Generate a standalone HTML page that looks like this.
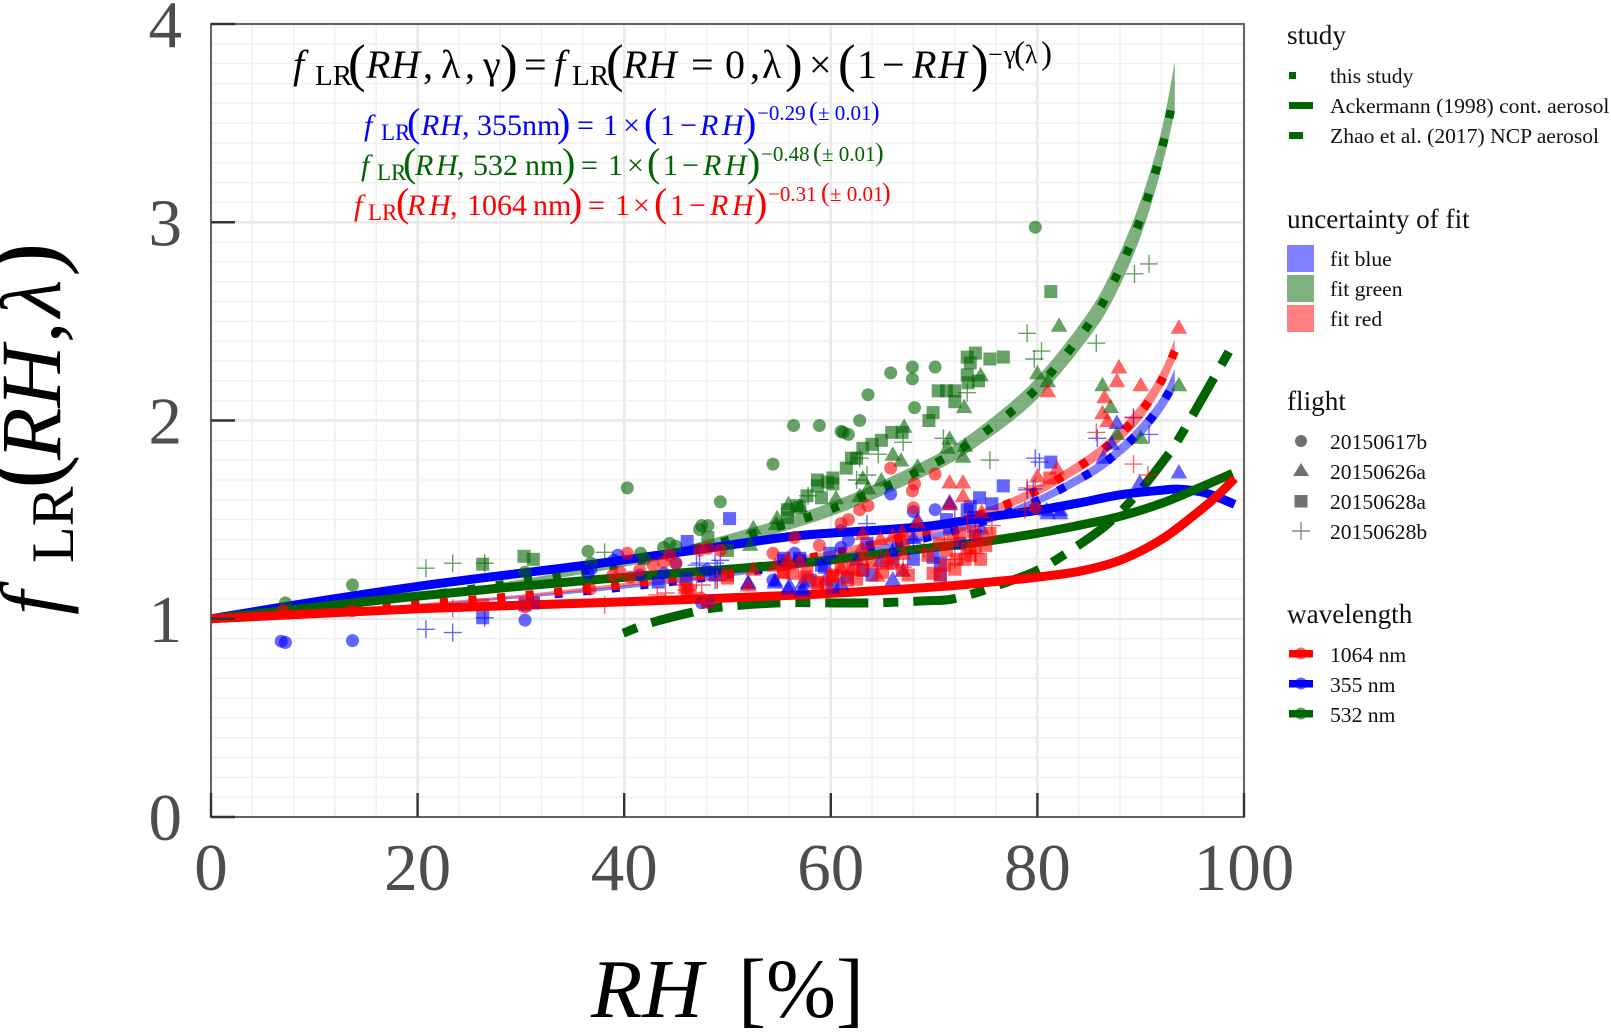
<!DOCTYPE html>
<html lang="en">
<head>
<meta charset="utf-8">
<title>fLR(RH, λ) enhancement factor</title>
<style>
html,body{margin:0;padding:0;background:#fff;}
body{width:1611px;height:1033px;overflow:hidden;}
svg{display:block;font-family:"Liberation Serif",serif;}
.lt{font-size:21.6px;fill:#111;}
.lh{font-size:27.2px;fill:#111;}
.i{font-style:italic;}
</style>
</head>
<body>
<svg id="chart" xmlns="http://www.w3.org/2000/svg" width="1611" height="1033" viewBox="0 0 1611 1033">
  <g id="grid"></g>
  <g id="lines"></g>
  <g id="points"></g>
  <g id="frame"></g>

  <g>
    <text font-size="40" fill="#000">
      <tspan class="i" x="293" y="78">f</tspan><tspan font-size="29" x="315" y="85">LR</tspan><tspan font-size="53" x="348" y="81">(</tspan><tspan class="i" x="366" y="78">R</tspan><tspan class="i" x="391" y="78">H</tspan><tspan x="423" y="78">,</tspan><tspan x="441" y="78">λ</tspan><tspan x="465" y="78">,</tspan><tspan x="483" y="78">γ</tspan><tspan font-size="53" x="500" y="81">)</tspan><tspan x="524" y="78">=</tspan><tspan class="i" x="554" y="78">f</tspan><tspan font-size="29" x="572" y="85">LR</tspan><tspan font-size="53" x="606" y="81">(</tspan><tspan class="i" x="623" y="78">R</tspan><tspan class="i" x="648" y="78">H</tspan><tspan x="691" y="78">=</tspan><tspan x="725" y="78">0</tspan><tspan x="750" y="78">,</tspan><tspan x="762" y="78">λ</tspan><tspan font-size="53" x="785" y="81">)</tspan><tspan x="809" y="78">×</tspan><tspan font-size="53" x="838" y="81">(</tspan><tspan x="857" y="78">1</tspan><tspan x="882" y="78">−</tspan><tspan class="i" x="912" y="78">R</tspan><tspan class="i" x="938" y="78">H</tspan><tspan font-size="53" x="971" y="81">)</tspan><tspan font-size="26" x="988" y="63">−</tspan><tspan font-size="26" x="1004" y="63">γ</tspan><tspan font-size="33" x="1014" y="64">(</tspan><tspan font-size="26" x="1025" y="63">λ</tspan><tspan font-size="33" x="1041" y="64">)</tspan>
    </text>
    <text font-size="30" fill="#0000ff">
      <tspan class="i" x="364" y="135">f</tspan><tspan font-size="23" x="381" y="140">LR</tspan><tspan font-size="40" x="407" y="136">(</tspan><tspan class="i" x="421" y="135">R</tspan><tspan class="i" x="440" y="135">H</tspan><tspan x="462" y="135">,</tspan><tspan x="477" y="135">355nm</tspan><tspan font-size="40" x="557" y="136">)</tspan><tspan x="577" y="135">=</tspan><tspan x="603" y="135">1</tspan><tspan x="623" y="135">×</tspan><tspan font-size="40" x="644" y="136">(</tspan><tspan x="660" y="135">1</tspan><tspan x="680" y="135">−</tspan><tspan class="i" x="700" y="135">R</tspan><tspan class="i" x="722" y="135">H</tspan><tspan font-size="40" x="743" y="136">)</tspan><tspan font-size="21" x="757" y="120">−0.29</tspan><tspan font-size="26" x="809" y="120">(</tspan><tspan font-size="21" x="818" y="120">± 0.01</tspan><tspan font-size="26" x="871" y="120">)</tspan>
    </text>
    <text font-size="30" fill="#006400">
      <tspan class="i" x="361" y="175">f</tspan><tspan font-size="23" x="377" y="180">LR</tspan><tspan font-size="40" x="403" y="176">(</tspan><tspan class="i" x="415" y="175">R</tspan><tspan class="i" x="436" y="175">H</tspan><tspan x="457" y="175">,</tspan><tspan x="473" y="175">532</tspan><tspan x="525" y="175">nm</tspan><tspan font-size="40" x="562" y="176">)</tspan><tspan x="581" y="175">=</tspan><tspan x="608" y="175">1</tspan><tspan x="627" y="175">×</tspan><tspan font-size="40" x="647" y="176">(</tspan><tspan x="663" y="175">1</tspan><tspan x="682" y="175">−</tspan><tspan class="i" x="703" y="175">R</tspan><tspan class="i" x="725" y="175">H</tspan><tspan font-size="40" x="747" y="176">)</tspan><tspan font-size="21" x="761" y="161">−0.48</tspan><tspan font-size="26" x="813" y="161">(</tspan><tspan font-size="21" x="822" y="161">± 0.01</tspan><tspan font-size="26" x="875" y="161">)</tspan>
    </text>
    <text font-size="30" fill="#ff0000">
      <tspan class="i" x="354" y="215">f</tspan><tspan font-size="23" x="368" y="220">LR</tspan><tspan font-size="40" x="396" y="216">(</tspan><tspan class="i" x="407" y="215">R</tspan><tspan class="i" x="429" y="215">H</tspan><tspan x="450" y="215">,</tspan><tspan x="467" y="215">1064</tspan><tspan x="533" y="215">nm</tspan><tspan font-size="40" x="569" y="216">)</tspan><tspan x="588" y="215">=</tspan><tspan x="615" y="215">1</tspan><tspan x="633" y="215">×</tspan><tspan font-size="40" x="654" y="216">(</tspan><tspan x="670" y="215">1</tspan><tspan x="689" y="215">−</tspan><tspan class="i" x="710" y="215">R</tspan><tspan class="i" x="732" y="215">H</tspan><tspan font-size="40" x="754" y="216">)</tspan><tspan font-size="21" x="768" y="201">−0.31</tspan><tspan font-size="26" x="821" y="201">(</tspan><tspan font-size="21" x="830" y="201">± 0.01</tspan><tspan font-size="26" x="882" y="201">)</tspan>
    </text>
  </g>

  <g transform="translate(60,613) rotate(-90)" fill="#000">
    <text font-size="86"><tspan class="i" x="-2" y="0">f</tspan><tspan font-size="60" x="50" y="13">LR</tspan><tspan font-size="104" x="124" y="-3">(</tspan><tspan class="i" x="153" y="0">RH</tspan><tspan x="270" y="0">,</tspan><tspan class="i" x="296" y="0">λ</tspan><tspan font-size="104" x="336" y="-3">)</tspan></text>
  </g>
  <text font-size="84" fill="#000"><tspan class="i" x="591" y="1017">RH</tspan><tspan x="738" y="1017">[%]</tspan></text>

  <g>
    <text class="lh" x="1287" y="44">study</text>
    <rect x="1289" y="72" width="7" height="7" fill="#006400"/>
    <text class="lt" x="1330" y="83">this study</text>
    <rect x="1289" y="102" width="24" height="7" fill="#006400"/>
    <text class="lt" x="1330" y="113">Ackermann (1998) cont. aerosol</text>
    <rect x="1289" y="132" width="14" height="7" fill="#006400"/>
    <text class="lt" x="1330" y="143">Zhao et al. (2017) NCP aerosol</text>
  </g>
  <g>
    <text class="lh" x="1287" y="228">uncertainty of fit</text>
    <rect x="1287" y="245" width="27" height="27" fill="#8080ff"/>
    <text class="lt" x="1330" y="266">fit blue</text>
    <rect x="1287" y="275" width="27" height="27" fill="#80b280"/>
    <text class="lt" x="1330" y="296">fit green</text>
    <rect x="1287" y="305" width="27" height="27" fill="#ff8080"/>
    <text class="lt" x="1330" y="326">fit red</text>
  </g>
  <g>
    <text class="lh" x="1287" y="410">flight</text>
    <circle cx="1301" cy="441" r="6" fill="#707070"/>
    <text class="lt" x="1330" y="449">20150617b</text>
    <polygon points="1301,463 1293,476 1309,476" fill="#707070"/>
    <text class="lt" x="1330" y="479">20150626a</text>
    <rect x="1294.500" y="495" width="13" height="12.500" fill="#707070"/>
    <text class="lt" x="1330" y="509">20150628a</text>
    <path d="M1292 531H1310M1301 522V540" stroke="#8a8a8a" stroke-width="1.400" fill="none"/>
    <text class="lt" x="1330" y="539">20150628b</text>
  </g>
  <g>
    <text class="lh" x="1287" y="623">wavelength</text>
    <rect x="1289" y="650" width="24" height="7.500" fill="#ff0000"/>
    <circle cx="1301" cy="653.500" r="6" fill="#ff0000" fill-opacity="0.600"/>
    <text class="lt" x="1330" y="662">1064 nm</text>
    <rect x="1289" y="680" width="24" height="7.500" fill="#0000ff"/>
    <circle cx="1301" cy="683.500" r="6" fill="#0000ff" fill-opacity="0.600"/>
    <text class="lt" x="1330" y="692">355 nm</text>
    <rect x="1289" y="710" width="24" height="7.500" fill="#006400"/>
    <circle cx="1301" cy="713.500" r="6" fill="#006400" fill-opacity="0.600"/>
    <text class="lt" x="1330" y="722">532 nm</text>
  </g>
</svg>
<script>
// ---- axis labels ----
const xTicks = [0, 20, 40, 60, 80, 100];
const yTicks = [0, 1, 2, 3, 4];

// ---- literature curves ----
const ackBlueRH = [0, 10, 20, 30, 37.7, 50, 57, 65, 69.9, 74.4, 80, 84.1, 88, 91.9, 93.8, 96.4, 99.1];
const ackBlueF = [1, 1.085, 1.163, 1.23, 1.28, 1.37, 1.42, 1.448, 1.47, 1.507, 1.547, 1.585, 1.625, 1.648, 1.653, 1.633, 1.577];
const ackGreenRH = [0, 20, 36.7, 57, 68.3, 74.4, 80, 84.1, 88, 91.9, 95.1, 98.9];
const ackGreenF = [1, 1.114, 1.195, 1.28, 1.35, 1.386, 1.431, 1.472, 1.517, 1.58, 1.648, 1.733];
const ackRedRH = [0, 20, 37, 57, 70, 74.4, 80, 84.1, 88, 91.9, 95.1, 97.4, 99.1];
const ackRedF = [1, 1.05, 1.08, 1.12, 1.16, 1.18, 1.21, 1.24, 1.295, 1.396, 1.52, 1.62, 1.708];
const zhaoRH = [39.9, 42.5, 46.6, 49.5, 54.9, 59.1, 64, 69, 71.5, 74, 75.7, 79.6, 82.2, 86.6, 89.7, 92.4, 94, 99];
const zhaoF = [0.927, 0.978, 1.033, 1.06, 1.08, 1.08, 1.08, 1.09, 1.097, 1.13, 1.16, 1.235, 1.31, 1.47, 1.633, 1.81, 1.935, 2.39];

// ---- fit curves and uncertainty ribbons ----
const fitRH = [0, 10, 20, 30, 40, 50, 60, 70, 75, 80, 85, 87.5, 90, 92, 93.3];
const fitBlue = [1, 1.031, 1.067, 1.109, 1.16, 1.223, 1.304, 1.418, 1.495, 1.595, 1.733, 1.828, 1.95, 2.08, 2.2];
const fitBlueLo = [1, 1.03, 1.063, 1.104, 1.152, 1.212, 1.291, 1.403, 1.478, 1.575, 1.708, 1.8, 1.915, 2.04, 2.15];
const fitBlueHi = [1, 1.032, 1.071, 1.114, 1.168, 1.234, 1.317, 1.433, 1.512, 1.615, 1.758, 1.856, 1.985, 2.12, 2.26];
const fitGreen = [1, 1.052, 1.113, 1.187, 1.278, 1.395, 1.552, 1.782, 1.945, 2.165, 2.486, 2.713, 3.02, 3.361, 3.66];
const fitGreenLo = [1, 1.05, 1.106, 1.176, 1.262, 1.365, 1.517, 1.742, 1.9, 2.11, 2.42, 2.63, 2.93, 3.27, 3.56];
const fitGreenHi = [1, 1.054, 1.12, 1.198, 1.294, 1.425, 1.587, 1.822, 1.99, 2.22, 2.55, 2.79, 3.11, 3.46, 3.81];
const fitRed = [1, 1.033, 1.072, 1.117, 1.172, 1.24, 1.329, 1.453, 1.537, 1.647, 1.801, 1.906, 2.042, 2.2, 2.35];
const fitRedLo = [1, 1.032, 1.068, 1.112, 1.163, 1.228, 1.315, 1.434, 1.517, 1.622, 1.772, 1.872, 2, 2.16, 2.3];
const fitRedHi = [1, 1.034, 1.076, 1.122, 1.181, 1.252, 1.343, 1.472, 1.557, 1.672, 1.83, 1.94, 2.084, 2.25, 2.41];

// ---- 532 nm observations ----
const greenCircleRH = [7.2, 13.7, 30.4, 36.5, 36.8, 40.3, 41.6, 42, 43.8, 44.4, 45, 47.3, 47.5, 48.1, 49.3, 54.4, 56.4, 58.9, 61, 61.2, 61.7, 62.8, 63.6, 65.8, 67.9, 67.9, 70.1, 68.1, 79.8];
const greenCircleF = [1.08, 1.17, 1.235, 1.34, 1.28, 1.66, 1.33, 1.3, 1.36, 1.38, 1.365, 1.45, 1.47, 1.47, 1.59, 1.78, 1.975, 1.975, 1.945, 1.94, 1.93, 2, 2.13, 2.24, 2.27, 2.21, 2.27, 2.065, 2.975];
const greenSquareRH = [26.3, 30.3, 31.2, 48.1, 50, 55.8, 56.7, 55.8, 57, 57.7, 58.7, 58.7, 59.1, 59.7, 60.2, 60.2, 61.5, 62, 62.5, 63.1, 64, 64.9, 65.9, 66.9, 69.5, 69.9, 70.4, 71.2, 72, 72, 73.2, 74, 73.5, 73.2, 73.3, 74.3, 75.4, 76.7, 81.3];
const greenSquareF = [1.275, 1.315, 1.3, 1.41, 1.345, 1.51, 1.57, 1.55, 1.56, 1.62, 1.7, 1.67, 1.61, 1.69, 1.71, 1.68, 1.76, 1.81, 1.81, 1.86, 1.88, 1.9, 1.94, 1.94, 2, 2.04, 2.15, 2.15, 2.15, 2.095, 2.32, 2.34, 2.29, 2.23, 2.19, 2.2, 2.31, 2.32, 2.65];
const greenTriangleRH = [52.5, 52.2, 54.7, 55.9, 57, 54.8, 60.5, 63.6, 62.8, 63.1, 64.9, 66, 66.8, 67.1, 68.4, 71.5, 71.3, 73, 72.8, 72.9, 74.5, 80, 81, 82.1, 86.3, 87.1, 87.7, 90, 93.7];
const greenTriangleF = [1.46, 1.375, 1.48, 1.58, 1.57, 1.51, 1.61, 1.66, 1.62, 1.71, 1.7, 1.83, 1.8, 1.97, 1.77, 1.91, 1.865, 1.875, 1.82, 2.07, 2.23, 2.24, 2.2, 2.48, 2.18, 2.07, 1.935, 1.915, 2.18];
const greenPlusRH = [20.8, 23.4, 26.5, 38.1, 57.8, 62.5, 62.8, 63.5, 64.6, 67, 70.9, 73.2, 75.4, 79, 79.7, 80.4, 85.7, 89.4, 90.8];
const greenPlusF = [1.255, 1.28, 1.28, 1.335, 1.62, 1.7, 1.81, 1.725, 1.83, 1.89, 1.91, 2.14, 1.8, 2.44, 2.31, 2.35, 2.39, 2.74, 2.79];

// ---- 355 nm observations ----
const blueCircleRH = [6.8, 7.2, 13.7, 30.4, 36.5, 36.8, 39.4, 39, 41.5, 43.8, 45, 48, 47.5, 54.4, 56.5, 65.8, 68, 70.1, 61, 61.7, 61, 79.8];
const blueCircleF = [0.887, 0.88, 0.89, 0.993, 1.23, 1.25, 1.32, 1.295, 1.22, 1.23, 1.28, 1.245, 1.08, 1.195, 1.33, 1.63, 1.54, 1.55, 1.36, 1.395, 1.445, 1.56];
const blueSquareRH = [26.3, 30.4, 31.2, 43.3, 46, 46.1, 48.1, 48.8, 50.2, 55.4, 55.4, 57, 57, 58, 59.1, 59.4, 59.9, 60.2, 61.6, 63.1, 63.5, 69.9, 70.6, 70.6, 71.2, 71.5, 73.2, 73.5, 73.8, 74.4, 75.6, 76.7, 81.3, 64, 66, 68, 72.5, 74];
const blueSquareF = [1.005, 1.07, 1.08, 1.185, 1.205, 1.39, 1.085, 1.22, 1.505, 1.295, 1.305, 1.295, 1.305, 1.195, 1.27, 1.26, 1.33, 1.16, 1.21, 1.245, 1.38, 1.31, 1.28, 1.22, 1.5, 1.46, 1.55, 1.565, 1.51, 1.61, 1.58, 1.67, 1.79, 1.22, 1.3, 1.3, 1.38, 1.42];
const blueTriangleRH = [52, 52, 54.6, 54.6, 55.9, 56, 57.2, 57.3, 57.3, 64.8, 66, 67, 68, 68.4, 71.5, 71.5, 74.6, 80.9, 81, 82.2, 82.2, 86.4, 87.2, 87.7, 89.9, 93.7, 59.5, 61, 62.5, 66];
const blueTriangleF = [1.18, 1.185, 1.195, 1.185, 1.155, 1.17, 1.145, 1.185, 1.155, 1.295, 1.345, 1.245, 1.41, 1.5, 1.59, 1.58, 1.457, 1.55, 1.535, 1.55, 1.535, 1.815, 1.885, 1.99, 1.69, 1.74, 1.2, 1.18, 1.3, 1.2];
const bluePlusRH = [20.8, 23.4, 26.5, 47, 47.3, 48.8, 48.8, 49, 49.3, 63.5, 79, 79.6, 79.8, 80.2, 85.8, 89.3, 90.8, 66, 68, 72, 74];
const bluePlusF = [0.947, 0.93, 1.005, 1.27, 1.28, 1.28, 1.195, 1.25, 1.295, 1.48, 1.65, 1.655, 1.81, 1.79, 1.91, 2.015, 1.93, 1.34, 1.4, 1.5, 1.44];

// ---- 1064 nm observations ----
const redCircleRH = [7, 13.7, 30.4, 36.7, 38.9, 39.6, 40.3, 40.6, 41.5, 42.8, 43.8, 44.4, 45, 47.3, 47.4, 48.1, 49.3, 54.4, 56.5, 58.9, 61, 61.7, 62.8, 63.6, 65.8, 67.9, 68, 68.1, 70.1, 79.8];
const redCircleF = [1.04, 1.04, 1.06, 1.15, 1.22, 1.235, 1.33, 1.21, 1.245, 1.27, 1.285, 1.32, 1.28, 1.345, 1.105, 1.355, 1.345, 1.33, 1.41, 1.37, 1.48, 1.5, 1.55, 1.57, 1.76, 1.645, 1.56, 1.68, 1.73, 1.56];
const redSquareRH = [26.3, 30.4, 31.2, 45.9, 46.1, 46.4, 48.1, 50, 50, 55.4, 55.4, 56.3, 57.5, 57.7, 58.7, 58.7, 59.6, 60.2, 60.2, 61.6, 62.2, 63.1, 65, 66.9, 69.4, 69.9, 70.6, 71.2, 71.8, 72.2, 73.2, 73.5, 74, 74.2, 75.4, 81.2, 70.5, 72, 72.5, 73, 74.5, 75, 71, 73.8, 61, 62.5, 64, 66, 67.5];
const redSquareF = [1.07, 1.08, 1.08, 1.155, 1.145, 1.135, 1.085, 1.22, 1.205, 1.235, 1.235, 1.23, 1.21, 1.235, 1.18, 1.185, 1.17, 1.21, 1.22, 1.195, 1.26, 1.245, 1.235, 1.245, 1.32, 1.23, 1.22, 1.345, 1.395, 1.3, 1.355, 1.32, 1.36, 1.4, 1.43, 1.71, 1.38, 1.25, 1.43, 1.3, 1.3, 1.37, 1.27, 1.44, 1.25, 1.2, 1.28, 1.28, 1.22];
const redTriangleRH = [52, 52.5, 54.6, 55.8, 55.9, 57, 63, 63.1, 64.8, 65.4, 66, 66.9, 67, 68.4, 71.5, 71.5, 72.8, 72.8, 74.6, 80, 81, 81.9, 86.3, 86.5, 86.8, 87.7, 87.9, 90, 93.7, 60, 61, 62, 63, 64.5, 65.5, 67];
const redTriangleF = [1.17, 1.25, 1.27, 1.305, 1.28, 1.295, 1.36, 1.43, 1.405, 1.28, 1.42, 1.44, 1.395, 1.49, 1.69, 1.58, 1.69, 1.62, 1.54, 1.72, 2.15, 1.76, 2.04, 2.12, 2, 2.2, 2.27, 2.18, 2.47, 1.22, 1.26, 1.25, 1.3, 1.22, 1.31, 1.33];
const redPlusRH = [23.4, 38.1, 43.2, 44, 45.7, 46, 47, 47.5, 49, 49, 63.5, 64.8, 73.2, 75.6, 78.8, 79, 79.8, 85.7, 89.3, 89.3, 90.7, 67, 69, 71, 72, 74];
const redPlusF = [1.053, 1.07, 1.12, 1.13, 1.17, 1.145, 1.2, 1.17, 1.195, 1.2, 1.31, 1.31, 1.51, 1.47, 1.55, 1.66, 1.67, 1.94, 2.015, 1.78, 1.725, 1.26, 1.35, 1.4, 1.3, 1.33];

// ---- axis functions ----
const panelLeft = 211, panelRight = 1244, panelTop = 24, panelBottom = 817;
function xScale(v) { return panelLeft + (v / 100) * (panelRight - panelLeft); }
function yScale(v) { return panelBottom - (v / 4) * (panelBottom - panelTop); }

const SVGNS = 'http://www.w3.org/2000/svg';
function mk(tag, parent) {
  const el = document.createElementNS(SVGNS, tag);
  parent.appendChild(el);
  return el;
}
function smoothPath(rh, f) {
  const p = rh.map(function (v, i) { return [xScale(v), yScale(f[i])]; });
  let d = 'M' + p[0][0].toFixed(1) + ' ' + p[0][1].toFixed(1);
  for (let i = 0; i < p.length - 1; i++) {
    const a = p[Math.max(i - 1, 0)], b = p[i], c = p[i + 1], e = p[Math.min(i + 2, p.length - 1)];
    const c1x = b[0] + (c[0] - a[0]) / 6, c1y = b[1] + (c[1] - a[1]) / 6;
    const c2x = c[0] - (e[0] - b[0]) / 6, c2y = c[1] - (e[1] - b[1]) / 6;
    d += 'C' + c1x.toFixed(1) + ' ' + c1y.toFixed(1) + ' ' + c2x.toFixed(1) + ' ' + c2y.toFixed(1) + ' ' + c[0].toFixed(1) + ' ' + c[1].toFixed(1);
  }
  return d;
}

// ---- grid ----
const gridG = document.getElementById('grid');
for (let v = 0; v <= 100; v += 4) {
  const ln = mk('line', gridG);
  
  
  const major = v % 20 === 0;
  ln.setAttribute('x1', xScale(v));
  ln.setAttribute('x2', xScale(v));
  ln.setAttribute('y1', panelTop);
  ln.setAttribute('y2', panelBottom);
  ln.setAttribute('stroke', major ? '#e9e9e9' : '#f0f0f0');
  ln.setAttribute('stroke-width', major ? 2.6 : 1.5);
}
for (let k = 0; k <= 40; k++) {
  const ln = mk('line', gridG);
  
  
  const major = k % 10 === 0;
  ln.setAttribute('x1', panelLeft);
  ln.setAttribute('x2', panelRight);
  ln.setAttribute('y1', yScale(k / 10));
  ln.setAttribute('y2', yScale(k / 10));
  ln.setAttribute('stroke', major ? '#e9e9e9' : '#f0f0f0');
  ln.setAttribute('stroke-width', major ? 2.6 : 1.5);
}

// ---- lines ----
const linesG = document.getElementById('lines');
function ribbon(name, lo, hi, color) {
  const el = mk('path', linesG);
  
  
  const upper = smoothPath(fitRH, hi);
  const lowerRH = fitRH.slice().reverse();
  const lowerF = lo.slice().reverse();
  const lower = smoothPath(lowerRH, lowerF).replace(/^M/, 'L');
  el.setAttribute('d', upper + lower + 'Z');
  el.setAttribute('fill', color);
  el.setAttribute('fill-opacity', '0.5');
}
function curve(name, rh, f, color, width, dash) {
  const el = mk('path', linesG);
  
  
  el.setAttribute('d', smoothPath(rh, f));
  el.setAttribute('fill', 'none');
  el.setAttribute('stroke', color);
  el.setAttribute('stroke-width', width);
  if (dash) el.setAttribute('stroke-dasharray', dash);
}
ribbon('fit-ribbon-355nm', fitBlueLo, fitBlueHi, '#0000ff');
ribbon('fit-ribbon-532nm', fitGreenLo, fitGreenHi, '#006400');
ribbon('fit-ribbon-1064nm', fitRedLo, fitRedHi, '#ff0000');
curve('fit-line-355nm', fitRH, fitBlue, '#0000ff', 8.5, '8 20.7');
curve('fit-line-532nm', fitRH, fitGreen, '#006400', 8.5, '8 20.7');
curve('fit-line-1064nm', fitRH, fitRed, '#ff0000', 8.5, '8 20.7');
curve('zhao-line', zhaoRH, zhaoF, '#006400', 9, '15 15 43 15');
curve('ackermann-line-355nm', ackBlueRH, ackBlueF, '#0000ff', 9, null);
curve('ackermann-line-532nm', ackGreenRH, ackGreenF, '#006400', 9, null);
curve('ackermann-line-1064nm', ackRedRH, ackRedF, '#ff0000', 9, null);

// ---- points ----
const pointsG = document.getElementById('points');
function drawCircles(name, rh, f, color) {
  rh.forEach(function (v, i) {
    const el = mk('circle', pointsG);
    
    
    el.setAttribute('cx', xScale(v).toFixed(1));
    el.setAttribute('cy', yScale(f[i]).toFixed(1));
    el.setAttribute('r', 6.5);
    el.setAttribute('fill', color);
    el.setAttribute('fill-opacity', '0.6');
  });
}
function drawSquares(name, rh, f, color) {
  rh.forEach(function (v, i) {
    const el = mk('rect', pointsG);
    
    
    el.setAttribute('x', (xScale(v) - 6.5).toFixed(1));
    el.setAttribute('y', (yScale(f[i]) - 6.5).toFixed(1));
    el.setAttribute('width', 13);
    el.setAttribute('height', 13);
    el.setAttribute('fill', color);
    el.setAttribute('fill-opacity', '0.6');
  });
}
function drawTriangles(name, rh, f, color) {
  rh.forEach(function (v, i) {
    const el = mk('polygon', pointsG);
    
    
    const cx = xScale(v), cy = yScale(f[i]);
    el.setAttribute('points', cx.toFixed(1) + ',' + (cy - 8).toFixed(1) + ' ' + (cx - 8.3).toFixed(1) + ',' + (cy + 6.5).toFixed(1) + ' ' + (cx + 8.3).toFixed(1) + ',' + (cy + 6.5).toFixed(1));
    el.setAttribute('fill', color);
    el.setAttribute('fill-opacity', '0.6');
  });
}
function drawPluses(name, rh, f, color) {
  rh.forEach(function (v, i) {
    const el = mk('path', pointsG);
    
    
    const cx = xScale(v), cy = yScale(f[i]);
    el.setAttribute('d', 'M' + (cx - 9).toFixed(1) + ' ' + cy.toFixed(1) + 'H' + (cx + 9).toFixed(1) + 'M' + cx.toFixed(1) + ' ' + (cy - 9).toFixed(1) + 'V' + (cy + 9).toFixed(1));
    el.setAttribute('stroke', color);
    el.setAttribute('stroke-opacity', '0.6');
    el.setAttribute('stroke-width', 1.4);
    el.setAttribute('fill', 'none');
  });
}
drawCircles('point-532nm-20150617b', greenCircleRH, greenCircleF, '#006400');
drawSquares('point-532nm-20150628a', greenSquareRH, greenSquareF, '#006400');
drawTriangles('point-532nm-20150626a', greenTriangleRH, greenTriangleF, '#006400');
drawPluses('point-532nm-20150628b', greenPlusRH, greenPlusF, '#006400');
drawCircles('point-355nm-20150617b', blueCircleRH, blueCircleF, '#0000ff');
drawSquares('point-355nm-20150628a', blueSquareRH, blueSquareF, '#0000ff');
drawTriangles('point-355nm-20150626a', blueTriangleRH, blueTriangleF, '#0000ff');
drawPluses('point-355nm-20150628b', bluePlusRH, bluePlusF, '#0000ff');
drawCircles('point-1064nm-20150617b', redCircleRH, redCircleF, '#ff0000');
drawSquares('point-1064nm-20150628a', redSquareRH, redSquareF, '#ff0000');
drawTriangles('point-1064nm-20150626a', redTriangleRH, redTriangleF, '#ff0000');
drawPluses('point-1064nm-20150628b', redPlusRH, redPlusF, '#ff0000');

// ---- frame, ticks, labels ----
const frameG = document.getElementById('frame');
const border = mk('rect', frameG);


border.setAttribute('x', panelLeft);
border.setAttribute('y', panelTop);
border.setAttribute('width', panelRight - panelLeft);
border.setAttribute('height', panelBottom - panelTop);
border.setAttribute('fill', 'none');
border.setAttribute('stroke', '#555');
border.setAttribute('stroke-width', 1.8);
xTicks.forEach(function (v) {
  const t = mk('line', frameG);
  
  
  t.setAttribute('x1', xScale(v));
  t.setAttribute('x2', xScale(v));
  t.setAttribute('y1', panelBottom);
  t.setAttribute('y2', panelBottom - 24);
  t.setAttribute('stroke', '#333');
  t.setAttribute('stroke-width', 2.4);
  const l = mk('text', frameG);
  
  
  l.setAttribute('x', xScale(v));
  l.setAttribute('y', 890);
  l.setAttribute('text-anchor', 'middle');
  l.setAttribute('font-size', 67);
  l.setAttribute('fill', '#4d4d4d');
  l.textContent = v;
});
yTicks.forEach(function (v) {
  const t = mk('line', frameG);
  
  
  t.setAttribute('x1', panelLeft);
  t.setAttribute('x2', panelLeft + 24);
  t.setAttribute('y1', yScale(v));
  t.setAttribute('y2', yScale(v));
  t.setAttribute('stroke', '#333');
  t.setAttribute('stroke-width', 2.4);
  const l = mk('text', frameG);
  
  
  l.setAttribute('x', 182);
  l.setAttribute('y', yScale(v) + 23);
  l.setAttribute('text-anchor', 'end');
  l.setAttribute('font-size', 67);
  l.setAttribute('fill', '#4d4d4d');
  l.textContent = v;
});
</script>
</body>
</html>
